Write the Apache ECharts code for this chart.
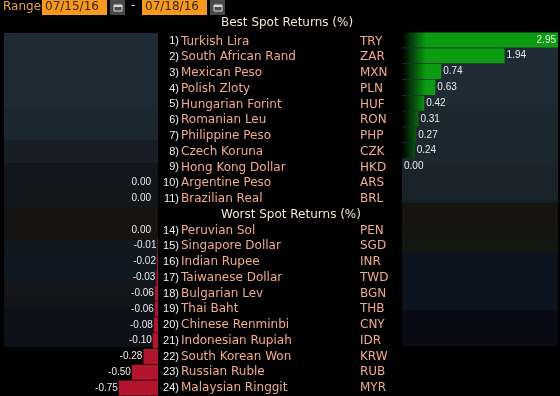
<!DOCTYPE html>
<html>
<head>
<meta charset="utf-8">
<script src="https://cdn.jsdelivr.net/npm/echarts@6/dist/echarts.min.js"></script>
<style>
  html, body { margin: 0; padding: 0; background: #000; }
  #chart { width: 560px; height: 396px; }
</style>
</head>
<body>
<div id="chart"></div>
<script>
// ── Data ──────────────────────────────────────────────────
const dateFrom = '07/15/16'
const dateTo   = '07/18/16'

const bestRanks  = ['1)', '2)', '3)', '4)', '5)', '6)', '7)', '8)', '9)', '10)', '11)']
const bestNames  = ['Turkish Lira', 'South African Rand', 'Mexican Peso', 'Polish Zloty', 'Hungarian Forint',
                    'Romanian Leu', 'Philippine Peso', 'Czech Koruna', 'Hong Kong Dollar', 'Argentine Peso', 'Brazilian Real']
const bestCodes  = ['TRY', 'ZAR', 'MXN', 'PLN', 'HUF', 'RON', 'PHP', 'CZK', 'HKD', 'ARS', 'BRL']
// ARS / BRL round to 0.00 but sit on the losing side, kept as -0
const bestValues = [2.95, 1.94, 0.74, 0.63, 0.42, 0.31, 0.27, 0.24, 0.00, -0, -0]

const worstRanks  = ['14)', '15)', '16)', '17)', '18)', '19)', '20)', '21)', '22)', '23)', '24)']
const worstNames  = ['Peruvian Sol', 'Singapore Dollar', 'Indian Rupee', 'Taiwanese Dollar', 'Bulgarian Lev',
                     'Thai Baht', 'Chinese Renminbi', 'Indonesian Rupiah', 'South Korean Won', 'Russian Ruble', 'Malaysian Ringgit']
const worstCodes  = ['PEN', 'SGD', 'INR', 'TWD', 'BGN', 'THB', 'CNY', 'IDR', 'KRW', 'RUB', 'MYR']
const worstValues = [-0, -0.01, -0.02, -0.03, -0.06, -0.06, -0.08, -0.10, -0.28, -0.50, -0.75]

// ── Rows (best block, header row, worst block) ────────────
const ranks  = [...bestRanks, '', ...worstRanks]
const names  = [...bestNames, '', ...worstNames]
const codes  = [...bestCodes, '', ...worstCodes]
const values = [...bestValues, null, ...worstValues]

const isGain  = v => v > 0 || Object.is(v, 0)
const axisMax = Math.max(...values.filter(v => v != null).map(Math.abs))

const gainData = values.map(v => (v != null && isGain(v)) ? {
  value: v,
  label: v / axisMax > 0.85 ? { position: 'insideRight', distance: 2 } : { position: 'right', distance: 2 },
} : '-')
const lossData = values.map(v => (v != null && !isGain(v)) ? {
  value: v,
  label: { position: 'left', distance: v === 0 ? 7 : 1 },
} : '-')

// ── Layout ────────────────────────────────────────────────
const ROW  = 15.88
const TOP  = 32
const H    = ROW * ranks.length
const FONT = 'DejaVu Sans'
const SALMON = '#f0aa8c'

// hard-edged vertical bands for the panel backgrounds
function bands(y0, y1, list) {
  const stops = []
  list.forEach(([a, b, c]) => {
    stops.push({ offset: (a - y0) / (y1 - y0), color: c }, { offset: (b - y0) / (y1 - y0), color: c })
  })
  return new echarts.graphic.LinearGradient(0, 0, 0, 1, stops)
}

const leftBg = bands(33, 347, [
  [33, 107, '#1e2b34'], [107, 140, '#1b272f'], [140, 163, '#171e26'], [163, 207, '#11161d'],
  [207, 240, '#151412'], [240, 250, '#121820'], [250, 282, '#0f1720'], [282, 297, '#15161a'],
  [297, 307, '#131418'], [307, 347, '#0f111a'],
])
const rightBg = bands(33, 346, [
  [33, 105, '#1f2b34'], [105, 165, '#1c2830'], [165, 200, '#1a232a'], [200, 203, '#141c24'],
  [203, 236, '#17140f'], [236, 252, '#111811'], [252, 310, '#0c1420'], [310, 346, '#0a0a14'],
])

function calIcon(x) {
  return {
    type: 'group', left: x, top: 0,
    children: [
      { type: 'rect', shape: { x: 0, y: 0, width: 15, height: 15 }, style: { fill: '#4a4a4a' } },
      { type: 'rect', shape: { x: 4, y: 5, width: 8, height: 6 }, style: { fill: 'none', stroke: '#d8d8d8', lineWidth: 1 } },
      { type: 'rect', shape: { x: 4, y: 5, width: 8, height: 2 }, style: { fill: '#d8d8d8' } },
    ],
  }
}

const labelStyle = { color: '#e8e8e8', fontFamily: 'Liberation Sans', fontSize: 10 }
const hiddenAxis = { axisLine: { show: false }, axisTick: { show: false }, splitLine: { show: false } }
const headStyle  = { color: '#f0e6d2', fontFamily: FONT, fontSize: 12, fontWeight: 'normal' }

const chart = echarts.init(document.getElementById('chart'))
chart.setOption({
  backgroundColor: '#000',
  animation: false,
  title: [
    { text: 'Best Spot Returns (%)', left: 221, top: 17, padding: 0, textStyle: headStyle },
    { text: 'Worst Spot Returns (%)', left: 221, top: TOP + 11 * ROW + 2, padding: 0, textStyle: headStyle },
  ],
  graphic: [
    { type: 'rect', shape: { x: 4, y: 33, width: 154, height: 314 }, style: { fill: leftBg }, z: -10 },
    { type: 'rect', shape: { x: 402, y: 33, width: 156, height: 313 }, style: { fill: rightBg }, z: -10 },
    { type: 'text', left: 3, top: 1, style: { text: 'Range', fill: '#e9a24e', font: '12px "DejaVu Sans"' } },
    { type: 'rect', shape: { x: 42, y: 0, width: 65, height: 15 }, style: { fill: '#f7981f' } },
    { type: 'text', left: 45, top: 1, style: { text: dateFrom, fill: '#3a2810', font: '12px "DejaVu Sans"' } },
    calIcon(110),
    { type: 'text', left: 131, top: 0, style: { text: '-', fill: '#d8d8d8', font: '12px "DejaVu Sans"' } },
    { type: 'rect', shape: { x: 142, y: 0, width: 65, height: 15 }, style: { fill: '#f7981f' } },
    { type: 'text', left: 145, top: 1, style: { text: dateTo, fill: '#3a2810', font: '12px "DejaVu Sans"' } },
    calIcon(210),
  ],
  grid: [
    { left: 4, top: TOP, width: 154, height: H },
    { left: 402, top: TOP, width: 156, height: H },
    { left: 180, top: TOP + 1.5, width: 180, height: H },
  ],
  xAxis: [
    { gridIndex: 0, type: 'value', min: -axisMax, max: 0, show: false },
    { gridIndex: 1, type: 'value', min: 0, max: axisMax, show: false },
    { gridIndex: 2, type: 'value', show: false },
  ],
  yAxis: [
    { gridIndex: 0, type: 'category', data: names, inverse: true, show: false },
    { gridIndex: 1, type: 'category', data: names, inverse: true, show: false },
    { gridIndex: 2, type: 'category', data: ranks, inverse: true, position: 'left', ...hiddenAxis,
      axisLabel: { interval: 0, margin: 1, color: '#f0f0f0', fontFamily: 'Liberation Sans', fontSize: 11 } },
    { gridIndex: 2, type: 'category', data: names, inverse: true, position: 'left', ...hiddenAxis,
      axisLabel: { interval: 0, inside: true, margin: 1, color: SALMON, fontFamily: FONT, fontSize: 12 } },
    { gridIndex: 2, type: 'category', data: codes, inverse: true, position: 'right', ...hiddenAxis,
      axisLabel: { interval: 0, margin: 0, color: SALMON, fontFamily: FONT, fontSize: 12 } },
  ],
  series: [
    {
      name: 'loss', type: 'bar', xAxisIndex: 0, yAxisIndex: 0,
      data: lossData, barCategoryGap: '5%',
      itemStyle: { color: '#b3142e' },
      label: { show: true, ...labelStyle, formatter: p => p.value.toFixed(2) },
    },
    {
      name: 'gain', type: 'bar', xAxisIndex: 1, yAxisIndex: 1,
      data: gainData, barCategoryGap: '5%',
      itemStyle: {
        color: new echarts.graphic.LinearGradient(402, 0, 426, 0, [
          { offset: 0, color: '#000000' }, { offset: 1, color: '#0c9c12' },
        ], true),
      },
      label: { show: true, ...labelStyle, formatter: p => p.value.toFixed(2) },
    },
  ],
})
</script>
</body>
</html>
